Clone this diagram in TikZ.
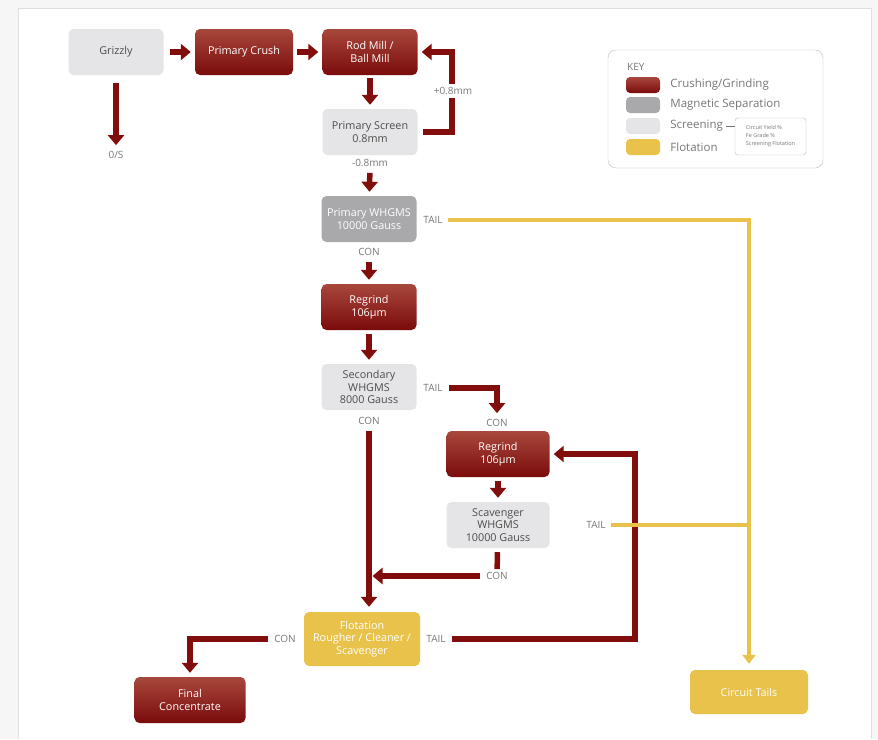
\documentclass[tikz,border=0pt]{standalone}
\usepackage{fontspec}
\setmainfont{Open Sans}
\usetikzlibrary{positioning}
\usetikzlibrary{arrows.meta}
\definecolor{redtop}{HTML}{A8483C}
\definecolor{redbot}{HTML}{7A0B0B}
\definecolor{flowred}{HTML}{820D0D}
\definecolor{magsep}{HTML}{A9A9AC}
\definecolor{screengray}{HTML}{E5E5E7}
\definecolor{flotyellow}{HTML}{E8C24A}
\definecolor{boxtext}{HTML}{4C4C4C}
\definecolor{labeltext}{HTML}{777777}
\definecolor{keyline}{HTML}{BBBBBB}

\tikzset{
  box/.style={rounded corners=5pt, minimum width=95pt, minimum height=46pt,
    align=center, inner sep=1pt, font=\fontsize{10.8}{12.5}\selectfont},
  crushbox/.style={box, top color=redtop, bottom color=redbot, text=white},
  magbox/.style={box, fill=magsep, text=white},
  screenbox/.style={box, fill=screengray, text=boxtext},
  flotbox/.style={box, fill=flotyellow, text=white},
  flow/.style={draw=flowred, line width=5.5pt, -{Triangle[width=16pt,length=10pt]},
    shorten <=4pt, shorten >=4pt},
  redline/.style={draw=flowred, line width=5.5pt},
  tailline/.style={draw=flotyellow, line width=4pt},
  tailflow/.style={tailline, -{Triangle[width=13pt,length=9pt]}, shorten >=6pt},
  lbl/.style={font=\fontsize{10}{11}\selectfont, text=labeltext, inner sep=2pt},
  swatch/.style={box, minimum width=34pt, minimum height=16pt, rounded corners=4pt},
}

\begin{document}
\begin{tikzpicture}[x=1pt,y=-1pt]
\useasboundingbox (0,0) rectangle (878,739);
% page frame
\fill[gray!7] (0,0) rectangle (878,739);
\fill[white] (18,8) rectangle (871,739);
\draw[gray!25, line width=1pt] (18,739) -- (18,8) -- (871,8) -- (871,739);

% process boxes
\node[screenbox] (grizzly) at (116,52) {Grizzly};
\node[crushbox, minimum width=98pt] (crush) at (244,52) {Primary Crush};
\node[crushbox] (mill) at (370,52) {Rod Mill /\\ Ball Mill};
\node[screenbox] (screen) at (370,132) {Primary Screen\\ 0.8mm};
\node[magbox] (pwhgms) at (369,219) {Primary WHGMS\\ 10000 Gauss};
\node[crushbox] (regrindA) at (369,307) {Regrind\\ 106µm};
\node[screenbox] (swhgms) at (369,387) {Secondary\\ WHGMS\\ 8000 Gauss};
\node[crushbox, minimum width=103pt] (regrindB) at (498,454) {Regrind\\ 106µm};
\node[screenbox, minimum width=103pt] (scav) at (498,525) {Scavenger\\ WHGMS\\ 10000 Gauss};
\node[flotbox, minimum width=116pt, minimum height=54pt] (flot) at (362,639) {Flotation\\ Rougher / Cleaner /\\ Scavenger};
\node[crushbox, minimum width=111pt] (final) at (190,700) {Final\\ Concentrate};
\node[flotbox, minimum width=118pt, minimum height=44pt] (tails) at (749,692) {Circuit Tails};

% stream labels
\node[lbl] (os) at (116,155) {0/S};
\node[lbl] (minus) at (370,163) {-0.8mm};
\node[lbl] (conA) at (369,252) {CON};
\node[lbl] (tailA) at (433,220) {TAIL};
\node[lbl] (tailB) at (433,388) {TAIL};
\node[lbl] (conB) at (369,421) {CON};
\node[lbl] (conC) at (497,423) {CON};
\node[lbl] (tailC) at (596,525) {TAIL};
\node[lbl] (conD) at (497,576) {CON};
\node[lbl] (conE) at (285,639) {CON};
\node[lbl] (tailD) at (436,639) {TAIL};
\coordinate (loopB) at (635,639);

% crushing circuit
\draw[flow, shorten <=6pt] (grizzly) -- (crush);
\draw[flow] (crush) -- (mill);
\draw[flow, shorten <=8pt] (grizzly) -- (os);
\draw[flow, shorten <=3pt] (mill) -- (screen);
\draw[flow, shorten <=5pt] (screen.east) -| (452,91) |- (mill.east);
\node[lbl, fill=white, inner sep=3pt] (plus) at (453,91) {+0.8mm};
\draw[flow] (minus) -- (pwhgms);

% magnetic separation
\draw[flow] (conA) -- (regrindA);
\draw[flow] (regrindA) -- (swhgms);
\draw[flow] (tailB) -| (conC);
\draw[flow, shorten >=5pt] (conB) -- (conB |- flot.north);
\draw[flow] (regrindB) -- (scav);
\draw[redline, shorten <=4pt, shorten >=1pt] (scav) -- (conD);
\draw[flow, shorten >=3.5pt] (conD) -- (conD -| conB);

% flotation
\draw[flow] (conE) -| (final);
\draw[flow] (tailD) -- (loopB) |- (regrindB);

% tails
\draw[tailflow, shorten <=3pt] (tailA) -| (tails);
\draw[tailline, shorten <=3pt] (tailC) -- (tailC -| tails);

% key
\node[draw=keyline, rounded corners=8pt, minimum width=215pt, minimum height=118pt] (key) at (715.5,109) {};
\node[lbl, anchor=west, font=\fontsize{10}{11}\selectfont] (keytitle) at (625,67) {KEY};
\node[swatch, top color=redtop, bottom color=redbot] (swA) at (643,85) {};
\node[swatch, fill=magsep] (swB) at (643,105) {};
\node[swatch, fill=screengray] (swC) at (643,126) {};
\node[swatch, fill=flotyellow] (swD) at (643,147) {};
\foreach \sw/\name in {swA/Crushing\slash Grinding, swB/Magnetic Separation, swC/Screening, swD/Flotation} {
    \node[lbl, anchor=west, font=\fontsize{11.5}{12}\selectfont] (\sw-txt) at ([xshift=8pt]\sw.east) {\name};
}
\node[draw=keyline, rounded corners=3pt, minimum width=71pt, minimum height=37pt, align=left,
  text=labeltext, font=\fontsize{5.5}{8}\selectfont] (yieldbox) at (770.5,136.5)
  {Circuit Yield \%\\ Fe Grade \%\\ Screening Flotation};
\draw[labeltext, line width=0.6pt] ([xshift=1pt]swC-txt.east) -- (swC-txt.east -| yieldbox.west);
\end{tikzpicture}
\end{document}
